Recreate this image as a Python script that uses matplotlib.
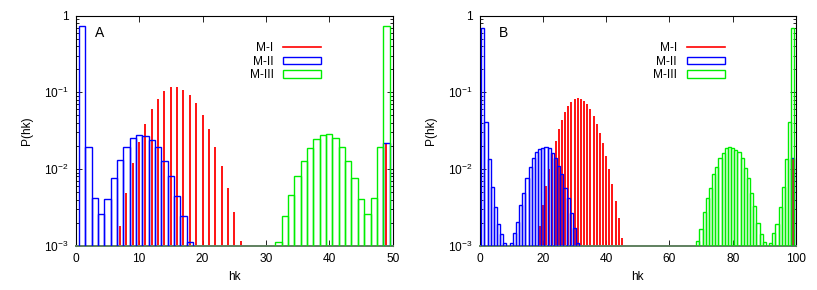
import matplotlib
matplotlib.use("Agg")
import matplotlib.pyplot as plt
from matplotlib.lines import Line2D
from matplotlib.patches import Patch
from matplotlib.ticker import LogLocator, NullFormatter

plt.rcParams["font.family"] = ["Liberation Sans", "DejaVu Sans"]
plt.rcParams["mathtext.fontset"] = "custom"
plt.rcParams["mathtext.rm"] = "Liberation Sans"
plt.rcParams["mathtext.default"] = "regular"

# panel A (hk = 0..49)
hk_red_A = list(range(7, 27)) + [49]
red_A = [0.00181, 0.00482, 0.0121, 0.0223, 0.0387, 0.0607, 0.0827, 0.104, 0.116, 0.119,
         0.108, 0.0923, 0.0726, 0.0506, 0.0332, 0.0196, 0.0110, 0.0056, 0.00272, 0.00115,
         0.0217]
hk_blue_A = list(range(1, 19)) + [49]
blue_A = [0.741, 0.0194, 0.00419, 0.00261, 0.00402, 0.00764, 0.0130, 0.0194, 0.0254, 0.0281,
          0.0272, 0.0241, 0.0192, 0.0129, 0.0082, 0.00445, 0.00246, 0.00112,
          0.0217]
hk_green_A = list(range(32, 50))
green_A = [0.00113, 0.00246, 0.00454, 0.00819, 0.01286, 0.0188, 0.0244, 0.0278, 0.0283, 0.0256,
           0.0192, 0.0129, 0.0077, 0.00402, 0.00259, 0.00419, 0.0194, 0.741]

# panel B (hk = 0..99)
hk_red_B = list(range(19, 46)) + [99]
red_B = [0.00181, 0.0034, 0.0060, 0.00993, 0.0157, 0.0232, 0.033, 0.0437, 0.055, 0.0664,
         0.0755, 0.0811, 0.0835, 0.0819, 0.0771, 0.0698, 0.0601, 0.0492, 0.039, 0.0298,
         0.0217, 0.0148, 0.0099, 0.0063, 0.00387, 0.00232, 0.00125,
         0.0138]
hk_blue_B = list(range(1, 9)) + list(range(10, 32)) + [99]
blue_B = [0.698, 0.0414, 0.0134, 0.00583, 0.00317, 0.0019, 0.00141, 0.00107,
          0.00109, 0.00145, 0.00202, 0.0034, 0.00486, 0.00756, 0.0107, 0.0138, 0.0168, 0.0181,
          0.019, 0.0196, 0.019, 0.016, 0.0138, 0.011, 0.00853, 0.00561, 0.00423, 0.00269,
          0.00169, 0.00107,
          0.0138]
hk_green_B = list(range(69, 91)) + list(range(92, 100))
green_B = [0.00116, 0.00164, 0.00273, 0.00423, 0.0056, 0.0085, 0.0107, 0.0138, 0.016, 0.019,
           0.0196, 0.019, 0.0177, 0.0168, 0.0138, 0.0104, 0.00756, 0.0049, 0.00333, 0.00196,
           0.00141, 0.00113,
           0.00107, 0.00145, 0.0019, 0.00317, 0.00578, 0.0135, 0.0414, 0.698]

panels = [
    ("A", hk_red_A, red_A, hk_blue_A, blue_A, hk_green_A, green_A, 50, [0, 10, 20, 30, 40, 50]),
    ("B", hk_red_B, red_B, hk_blue_B, blue_B, hk_green_B, green_B, 100, [0, 20, 40, 60, 80, 100]),
]

RED, BLUE, GREEN = "#ff0000", "#0000ff", "#00ee00"
fs = 8.6

fig = plt.figure(figsize=(8.17, 2.9), dpi=100)
lefts = [75.7 / 817, 479.6 / 817]
widths = [317 / 817, 316.4 / 817]

for (name, hr, r, hb, b, hg, g, xmax, xt), left, w in zip(panels, lefts, widths):
    ax = fig.add_axes([left, 44.3 / 290, w, 230 / 290])
    ax.set_yscale("log")
    ax.vlines(hr, 1e-4, r, color=RED, lw=1.3, zorder=2)
    ax.bar(hb, [v - 1e-4 for v in b], bottom=1e-4, width=1, fill=False,
           edgecolor=BLUE, lw=1.0, zorder=3)
    ax.bar(hg, [v - 1e-4 for v in g], bottom=1e-4, width=1, fill=False,
           edgecolor=GREEN, lw=1.0, zorder=4)
    ax.set_xlim(0, xmax)
    ax.set_ylim(1e-3, 1)
    ax.set_xticks(xt)
    ax.set_xticklabels([str(v) for v in xt], fontsize=fs)
    ax.set_yticks([1e-3, 1e-2, 1e-1, 1])
    ax.set_yticklabels(["$10^{-3}$", "$10^{-2}$", "$10^{-1}$", "1"], fontsize=fs)
    ax.yaxis.set_minor_locator(LogLocator(base=10, subs=range(2, 10)))
    ax.yaxis.set_minor_formatter(NullFormatter())
    ax.tick_params(which="both", direction="in", top=True, right=True, width=0.6)
    ax.tick_params(which="major", length=4, pad=5)
    ax.tick_params(which="minor", length=2)
    for s in ax.spines.values():
        s.set_linewidth(0.8)
    ax.spines["bottom"].set_color("#5f805f")
    ax.spines["bottom"].set_linewidth(1.4)
    ax.set_xlabel("hk", fontsize=fs)
    ax.xaxis.set_label_coords(0.5, -0.11)
    ax.set_ylabel("P(hk)", fontsize=fs)
    ax.yaxis.set_label_coords(-0.135, 0.5)
    ax.text(0.075, 0.925, name, transform=ax.transAxes, fontsize=10, ha="center", va="center")

    handles = [Line2D([], [], color=RED, lw=1.2),
               Patch(facecolor="none", edgecolor=BLUE, lw=1.0),
               Patch(facecolor="none", edgecolor=GREEN, lw=1.0)]
    ax.legend(handles, ["M-I", "M-II", "M-III"], loc="upper right",
              bbox_to_anchor=(0.775, 0.885), frameon=False, markerfirst=False,
              fontsize=fs, handlelength=3.2, handleheight=0.6, handletextpad=0.8,
              labelspacing=0.12, borderpad=0, borderaxespad=0)

fig.savefig("out.png", dpi=100)
